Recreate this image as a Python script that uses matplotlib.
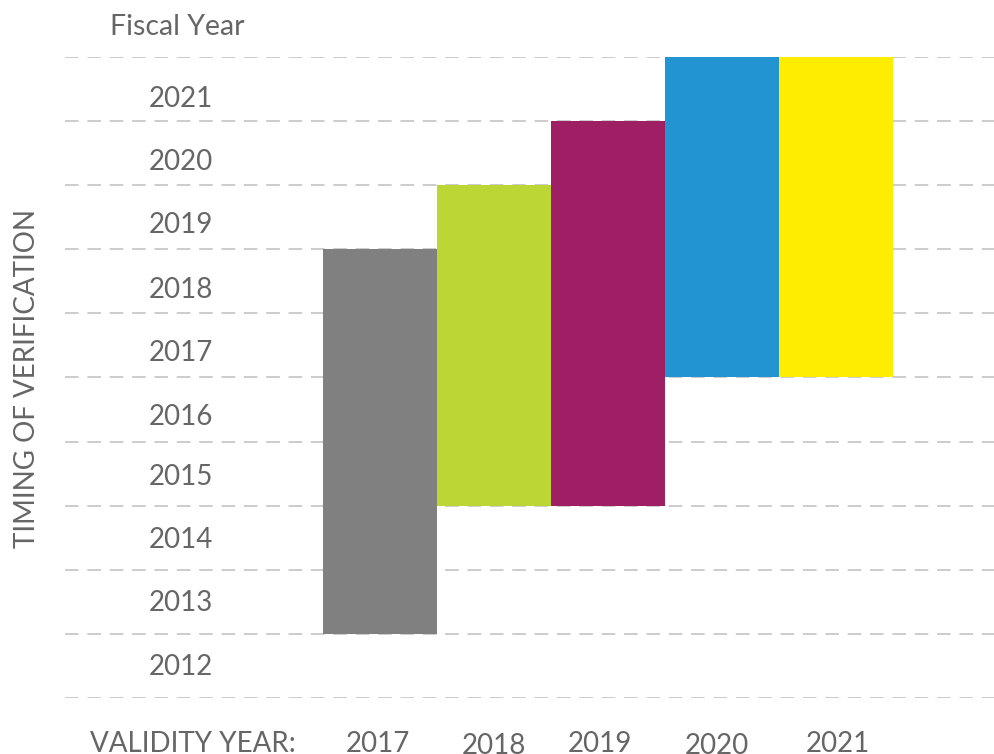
import matplotlib
matplotlib.use("Agg")
import matplotlib.pyplot as plt
import matplotlib.transforms as mtrans

# ---- data ----
validity_years = ["2017", "2018", "2019", "2020", "2021"]
verify_start = [2013, 2015, 2015, 2017, 2017]
verify_end = [2018, 2019, 2020, 2021, 2021]
fiscal_years = [2012, 2013, 2014, 2015, 2016, 2017, 2018, 2019, 2020, 2021]
bar_colors = ["#808080", "#BCD635", "#9E1F63", "#2394D2", "#FFED00"]

# ---- small label nudges (pixels), style only ----
y_label_drop = [0, 0, 1, 2, 6, 6, 7, 6, 7, 8]
x_label_dx = [-2, 0, -8, -5, 2]
x_label_drop = [0, 2, 0, 2, 0]

W, H = 994, 754
fig = plt.figure(figsize=(W / 100, H / 100), dpi=100)
plt.rcParams['font.family'] = ['Lato', 'DejaVu Sans']
TXT = "#666666"
FW = 'normal'

# axes placed in pixel coordinates
ax_l, ax_r, ax_t, ax_b = 65, 994, 57, 698
ax = fig.add_axes([ax_l / W, 1 - ax_b / H, (ax_r - ax_l) / W, (ax_b - ax_t) / H])
ax.set_axis_off()

bar_w_px = 114
c0 = 380
ax.set_xlim(-(c0 - ax_l) / bar_w_px, (ax_r - c0) / bar_w_px)
ax.set_ylim(fiscal_years[0] - 0.5, fiscal_years[-1] + 0.5)

# dashed gridlines at row boundaries
for k in range(len(fiscal_years) + 1):
    yb = fiscal_years[0] - 0.5 + k
    ax.axhline(yb, color="#cccccc", lw=1.4, dashes=(7, 4.5), zorder=1)

# bars
for i, (s, e, c) in enumerate(zip(verify_start, verify_end, bar_colors)):
    ax.bar(i, (e + 0.5) - (s - 0.5), bottom=s - 0.5, width=1.0,
           color=c, edgecolor='none', zorder=2)

# y labels (fiscal years), right-aligned
lab_x = (213 - c0) / bar_w_px
for y, d in zip(fiscal_years, y_label_drop):
    off = mtrans.ScaledTranslation(0, -(d + 1.5) / 100, fig.dpi_scale_trans)
    ax.text(lab_x, y, str(y), ha='right', va='center', fontsize=20,
            color=TXT, fontweight=FW, transform=ax.transData + off)

# x labels (validity years)
t = mtrans.blended_transform_factory(ax.transData, fig.transFigure)
for i, (lab, dx, d) in enumerate(zip(validity_years, x_label_dx, x_label_drop)):
    off = mtrans.ScaledTranslation(dx / 100, 0, fig.dpi_scale_trans)
    ax.text(i, 1 - (731 + d) / H, lab, ha='center', va='top', fontsize=20,
            color=TXT, fontweight=FW, transform=t + off, clip_on=False)

fig.text(90 / W, 1 - 731 / H, "VALIDITY YEAR:", ha='left', va='top',
         fontsize=20, color=TXT, fontweight=FW)
fig.text(110 / W, 1 - 27 / H, "Fiscal Year", ha='left', va='center',
         fontsize=20.5, color=TXT, fontweight=FW)
fig.text(27 / W, 1 - 378 / H, "TIMING OF VERIFICATION", ha='center',
         va='center', rotation=90, fontsize=20, color=TXT, fontweight=FW)

fig.savefig("out.png", dpi=100, facecolor='white')
